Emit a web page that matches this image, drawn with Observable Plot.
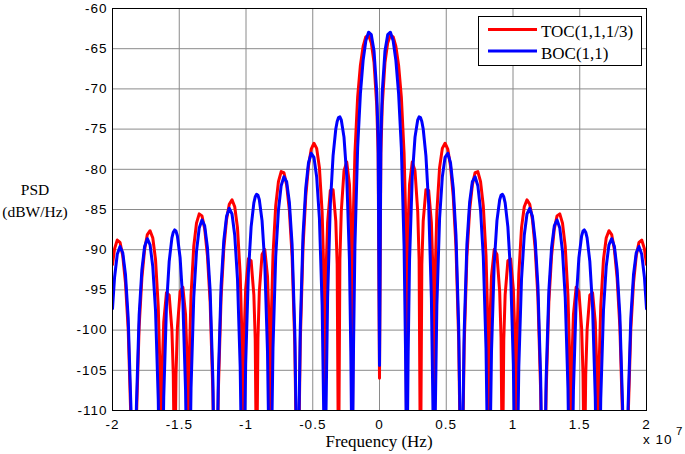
<!DOCTYPE html>
<html>
<head>
<meta charset="utf-8">
<script src="https://cdn.jsdelivr.net/npm/d3@7"></script>
<script src="https://cdn.jsdelivr.net/npm/@observablehq/plot@0.6"></script>
<style>
  html, body { margin: 0; padding: 0; background: #fff; }
  #chart { position: relative; width: 685px; height: 454px; }
</style>
</head>
<body>
<div id="chart"></div>
<script>
// Frequency in units of 10^7 Hz (axis shows "x 10^7")
const freq = [
  -2.0000, -1.9846, -1.9642, -1.9437, -1.9232, -1.9028, -1.8823, -1.8619, -1.8516, -1.8414,
  -1.8312, -1.8209, -1.8005, -1.7800, -1.7596, -1.7391, -1.7186, -1.6982, -1.6777, -1.6573, -1.6470, -1.6368,
  -1.6266, -1.6163, -1.5959, -1.5754, -1.5550, -1.5447, -1.5345, -1.5243, -1.5140, -1.4936, -1.4731, -1.4527, -1.4424, -1.4322,
  -1.4220, -1.4117, -1.3913, -1.3708, -1.3504, -1.3299, -1.3094, -1.2890, -1.2685, -1.2481, -1.2378, -1.2276,
  -1.2174, -1.2071, -1.1867, -1.1662, -1.1458, -1.1253, -1.1048, -1.0844, -1.0639, -1.0435, -1.0332, -1.0230,
  -1.0128, -1.0025, -0.9821, -0.9616, -0.9412, -0.9309, -0.9207, -0.9105, -0.9002, -0.8798, -0.8593, -0.8389, -0.8286, -0.8184,
  -0.8082, -0.7979, -0.7775, -0.7570, -0.7366, -0.7161, -0.6956, -0.6752, -0.6547, -0.6343, -0.6240, -0.6138,
  -0.6036, -0.5933, -0.5729, -0.5524, -0.5320, -0.5115, -0.4910, -0.4706, -0.4501, -0.4297, -0.4194, -0.4092,
  -0.3990, -0.3887, -0.3683, -0.3478, -0.3274, -0.3171, -0.3069, -0.2967, -0.2864, -0.2660, -0.2455, -0.2251, -0.2148, -0.2046,
  -0.1944, -0.1841, -0.1637, -0.1432, -0.1228, -0.1023, -0.0818, -0.0614, -0.0409, -0.0205, -0.0102,
  0,
  0.0102, 0.0205, 0.0409, 0.0614, 0.0818, 0.1023, 0.1228, 0.1432, 0.1637, 0.1841, 0.1944,
  0.2046, 0.2148, 0.2251, 0.2455, 0.2660, 0.2864, 0.2967, 0.3069, 0.3171, 0.3274, 0.3478, 0.3683, 0.3887, 0.3990,
  0.4092, 0.4194, 0.4297, 0.4501, 0.4706, 0.4910, 0.5115, 0.5320, 0.5524, 0.5729, 0.5933, 0.6036,
  0.6138, 0.6240, 0.6343, 0.6547, 0.6752, 0.6956, 0.7161, 0.7366, 0.7570, 0.7775, 0.7979, 0.8082,
  0.8184, 0.8286, 0.8389, 0.8593, 0.8798, 0.9002, 0.9105, 0.9207, 0.9309, 0.9412, 0.9616, 0.9821, 1.0025, 1.0128,
  1.0230, 1.0332, 1.0435, 1.0639, 1.0844, 1.1048, 1.1253, 1.1458, 1.1662, 1.1867, 1.2071, 1.2174,
  1.2276, 1.2378, 1.2481, 1.2685, 1.2890, 1.3094, 1.3299, 1.3504, 1.3708, 1.3913, 1.4117, 1.4220,
  1.4322, 1.4424, 1.4527, 1.4731, 1.4936, 1.5140, 1.5243, 1.5345, 1.5447, 1.5550, 1.5754, 1.5959, 1.6163, 1.6266,
  1.6368, 1.6470, 1.6573, 1.6777, 1.6982, 1.7186, 1.7391, 1.7596, 1.7800, 1.8005, 1.8209, 1.8312,
  1.8414, 1.8516, 1.8619, 1.8823, 1.9028, 1.9232, 1.9437, 1.9642, 1.9846, 2.0000
];

// BOC(1,1) PSD, dBW/Hz (values below -110 are off the chart)
const bocPsd = [
  -97.34, -93.46, -90.56, -89.60, -90.38, -93.09, -98.55, -109.62, -120, -120,
  -120, -109.43, -98.16, -92.51, -89.60, -88.63, -89.40, -92.10, -97.55, -108.61, -120, -120,
  -120, -108.39, -97.11, -91.45, -88.53, -87.82, -87.54, -87.70, -88.30, -90.99, -96.42, -107.47, -119.23, -120,
  -119.11, -107.22, -95.92, -90.24, -87.30, -86.30, -87.04, -89.71, -95.12, -106.15, -117.90, -120,
  -117.76, -105.86, -94.54, -88.84, -85.88, -84.85, -85.56, -88.21, -93.59, -104.59, -116.33, -120,
  -116.16, -104.25, -92.90, -87.16, -84.17, -83.42, -83.11, -83.22, -83.78, -86.39, -91.74, -102.70, -114.42, -120,
  -114.20, -102.26, -90.87, -85.09, -82.04, -80.92, -81.54, -84.09, -89.37, -100.27, -111.95, -120,
  -111.66, -99.69, -88.21, -82.35, -79.21, -78.00, -78.52, -80.96, -86.12, -96.89, -108.50, -120,
  -108.07, -96.02, -84.38, -78.33, -74.99, -74.06, -73.56, -73.48, -73.84, -76.00, -80.85, -91.27, -102.69, -120,
  -101.82, -89.53, -77.33, -70.62, -66.48, -64.02, -62.95, -63.26, -65.29, -70.44, -76.25,
  -104.4,
  -76.25, -70.44, -65.29, -63.26, -62.95, -64.02, -66.48, -70.62, -77.33, -89.53, -101.82,
  -120, -102.69, -91.27, -80.85, -76.00, -73.84, -73.48, -73.56, -74.06, -74.99, -78.33, -84.38, -96.02, -108.07,
  -120, -108.50, -96.89, -86.12, -80.96, -78.52, -78.00, -79.21, -82.35, -88.21, -99.69, -111.66,
  -120, -111.95, -100.27, -89.37, -84.09, -81.54, -80.92, -82.04, -85.09, -90.87, -102.26, -114.20,
  -120, -114.42, -102.70, -91.74, -86.39, -83.78, -83.22, -83.11, -83.42, -84.17, -87.16, -92.90, -104.25, -116.16,
  -120, -116.33, -104.59, -93.59, -88.21, -85.56, -84.85, -85.88, -88.84, -94.54, -105.86, -117.76,
  -120, -117.90, -106.15, -95.12, -89.71, -87.04, -86.30, -87.30, -90.24, -95.92, -107.22, -119.11,
  -120, -119.23, -107.47, -96.42, -90.99, -88.30, -87.70, -87.54, -87.82, -88.53, -91.45, -97.11, -108.39, -120,
  -120, -120, -108.61, -97.55, -92.10, -89.40, -88.63, -89.60, -92.51, -98.16, -109.43, -120,
  -120, -120, -109.62, -98.55, -93.09, -90.38, -89.60, -90.56, -93.46, -97.34
];

// TOC(1,1,1/3) PSD, dBW/Hz
const tocPsd = [
  -91.84, -89.90, -88.80, -89.08, -90.76, -94.11, -99.99, -111.30, -120, -120,
  -120, -111.11, -99.60, -93.53, -89.99, -88.12, -87.64, -88.55, -91.22, -97.09, -103.30, -120,
  -104.24, -99.01, -95.35, -95.66, -99.98, -105.56, -120, -105.45, -99.74, -95.20, -94.66, -98.09, -103.20, -120,
  -102.02, -95.69, -89.59, -86.69, -85.54, -85.79, -87.42, -90.72, -96.56, -107.83, -119.64, -120,
  -119.50, -107.54, -95.98, -89.85, -86.26, -84.34, -83.80, -84.65, -87.26, -93.07, -99.24, -120,
  -100.13, -94.86, -91.14, -91.38, -95.61, -101.16, -120, -100.97, -95.23, -90.60, -89.98, -93.32, -98.38, -120,
  -97.11, -90.74, -84.54, -81.53, -80.28, -80.41, -81.93, -85.11, -90.81, -101.95, -113.70, -120,
  -113.41, -101.37, -89.65, -83.36, -79.60, -77.49, -76.76, -77.40, -79.79, -85.36, -91.41, -120,
  -92.03, -86.64, -82.62, -82.54, -86.44, -91.81, -120, -91.23, -85.28, -80.21, -79.09, -81.89, -86.66, -120,
  -84.73, -78.00, -71.01, -67.07, -64.72, -63.51, -63.34, -64.28, -66.73, -72.12, -77.99,
  -106.0,
  -77.99, -72.12, -66.73, -64.28, -63.34, -63.51, -64.72, -67.07, -71.01, -78.00, -84.73,
  -120, -86.66, -81.89, -79.09, -80.21, -85.28, -91.23, -120, -91.81, -86.44, -82.54, -82.62, -86.64, -92.03,
  -120, -91.41, -85.36, -79.79, -77.40, -76.76, -77.49, -79.60, -83.36, -89.65, -101.37, -113.41,
  -120, -113.70, -101.95, -90.81, -85.11, -81.93, -80.41, -80.28, -81.53, -84.54, -90.74, -97.11,
  -120, -98.38, -93.32, -89.98, -90.60, -95.23, -100.97, -120, -101.16, -95.61, -91.38, -91.14, -94.86, -100.13,
  -120, -99.24, -93.07, -87.26, -84.65, -83.80, -84.34, -86.26, -89.85, -95.98, -107.54, -119.50,
  -120, -119.64, -107.83, -96.56, -90.72, -87.42, -85.79, -85.54, -86.69, -89.59, -95.69, -102.02,
  -120, -103.20, -98.09, -94.66, -95.20, -99.74, -105.45, -120, -105.56, -99.98, -95.66, -95.35, -99.01, -104.24,
  -120, -103.30, -97.09, -91.22, -88.55, -87.64, -88.12, -89.99, -93.53, -99.60, -111.11, -120,
  -120, -120, -111.30, -99.99, -94.11, -90.76, -89.08, -88.80, -89.90, -91.84
];

const xTicks = [-2, -1.5, -1, -0.5, 0, 0.5, 1, 1.5, 2];
const yTicks = [-110, -105, -100, -95, -90, -85, -80, -75, -70, -65, -60];
const seriesNames = ["TOC(1,1,1/3)", "BOC(1,1)"];
const seriesColors = ["#ff0000", "#0000ff"];
const xLabel = "Frequency (Hz)";
const yLabelLines = ["PSD", "(dBW/Hz)"];

if (freq.length !== bocPsd.length || freq.length !== tocPsd.length) {
  console.error("length mismatch", freq.length, bocPsd.length, tocPsd.length);
}

const tocData = freq.map((f, i) => ({ f, psd: tocPsd[i] }));
const bocData = freq.map((f, i) => ({ f, psd: bocPsd[i] }));

const W = 685, H = 454;
const mL = 112, mR = 39, mT = 8, mB = 44;

const plot = Plot.plot({
  width: W,
  height: H,
  marginLeft: mL,
  marginRight: mR,
  marginTop: mT,
  marginBottom: mB,
  style: {
    fontFamily: "'Liberation Sans', Arial, Helvetica, sans-serif",
    fontSize: "13.5px",
    letterSpacing: "1px",
    color: "#000",
    background: "#fff",
    overflow: "visible"
  },
  x: { domain: [-2, 2], ticks: xTicks, tickFormat: d => String(d), tickSize: 0, tickPadding: 9, label: null },
  y: { domain: [-110, -60], ticks: yTicks, tickFormat: d => String(d), tickSize: 0, tickPadding: 5, label: null },
  marks: [
    Plot.gridX(xTicks, { stroke: "#8a8a8a", strokeOpacity: 1, strokeWidth: 1 }),
    Plot.gridY(yTicks, { stroke: "#8a8a8a", strokeOpacity: 1, strokeWidth: 1 }),
    Plot.line(tocData, { x: "f", y: "psd", stroke: seriesColors[0], strokeWidth: 3, clip: true }),
    Plot.line(bocData, { x: "f", y: "psd", stroke: seriesColors[1], strokeWidth: 3, clip: true }),
    Plot.frame({ stroke: "#000", strokeWidth: 1 })
  ]
});

document.getElementById("chart").appendChild(plot);

const svg = d3.select(plot);
const serif = "'Liberation Serif', 'Times New Roman', Times, serif";

// Legend box (top-right, inside the frame)
const lg = svg.append("g").attr("font-family", serif).attr("font-size", 17)
  .attr("letter-spacing", 0).attr("text-anchor", "start");
lg.append("rect").attr("x", 478.5).attr("y", 16.5).attr("width", 163).attr("height", 49)
  .attr("fill", "#fff").attr("stroke", "#000").attr("stroke-width", 1);
seriesNames.forEach((name, i) => {
  const y = 29.5 + i * 21.5;
  lg.append("line").attr("x1", 488).attr("x2", 537).attr("y1", y).attr("y2", y)
    .attr("stroke", seriesColors[i]).attr("stroke-width", 3);
  lg.append("text").attr("x", 541).attr("y", y + 7.5).attr("fill", "#000")
    .attr("text-anchor", "start").text(name);
});

// Axis titles
svg.append("text").attr("x", (mL + W - mR) / 2).attr("y", 447).attr("text-anchor", "middle")
  .attr("font-family", serif).attr("font-size", 17).attr("letter-spacing", 0).attr("fill", "#000").text(xLabel);
yLabelLines.forEach((t, i) => {
  svg.append("text").attr("x", 35).attr("y", 195 + i * 22).attr("text-anchor", "middle")
    .attr("font-family", serif).attr("font-size", 15.5).attr("letter-spacing", 0).attr("fill", "#000").text(t);
});

// Exponent note for the x axis
svg.append("text").attr("x", 643).attr("y", 444).attr("fill", "#000").attr("text-anchor", "start")
  .attr("font-size", 13.5).attr("letter-spacing", "1px").text("x 10");
svg.append("text").attr("x", 676).attr("y", 435).attr("fill", "#000").attr("text-anchor", "start")
  .attr("font-size", 11.5).attr("letter-spacing", 0).text("7");
</script>
</body>
</html>
